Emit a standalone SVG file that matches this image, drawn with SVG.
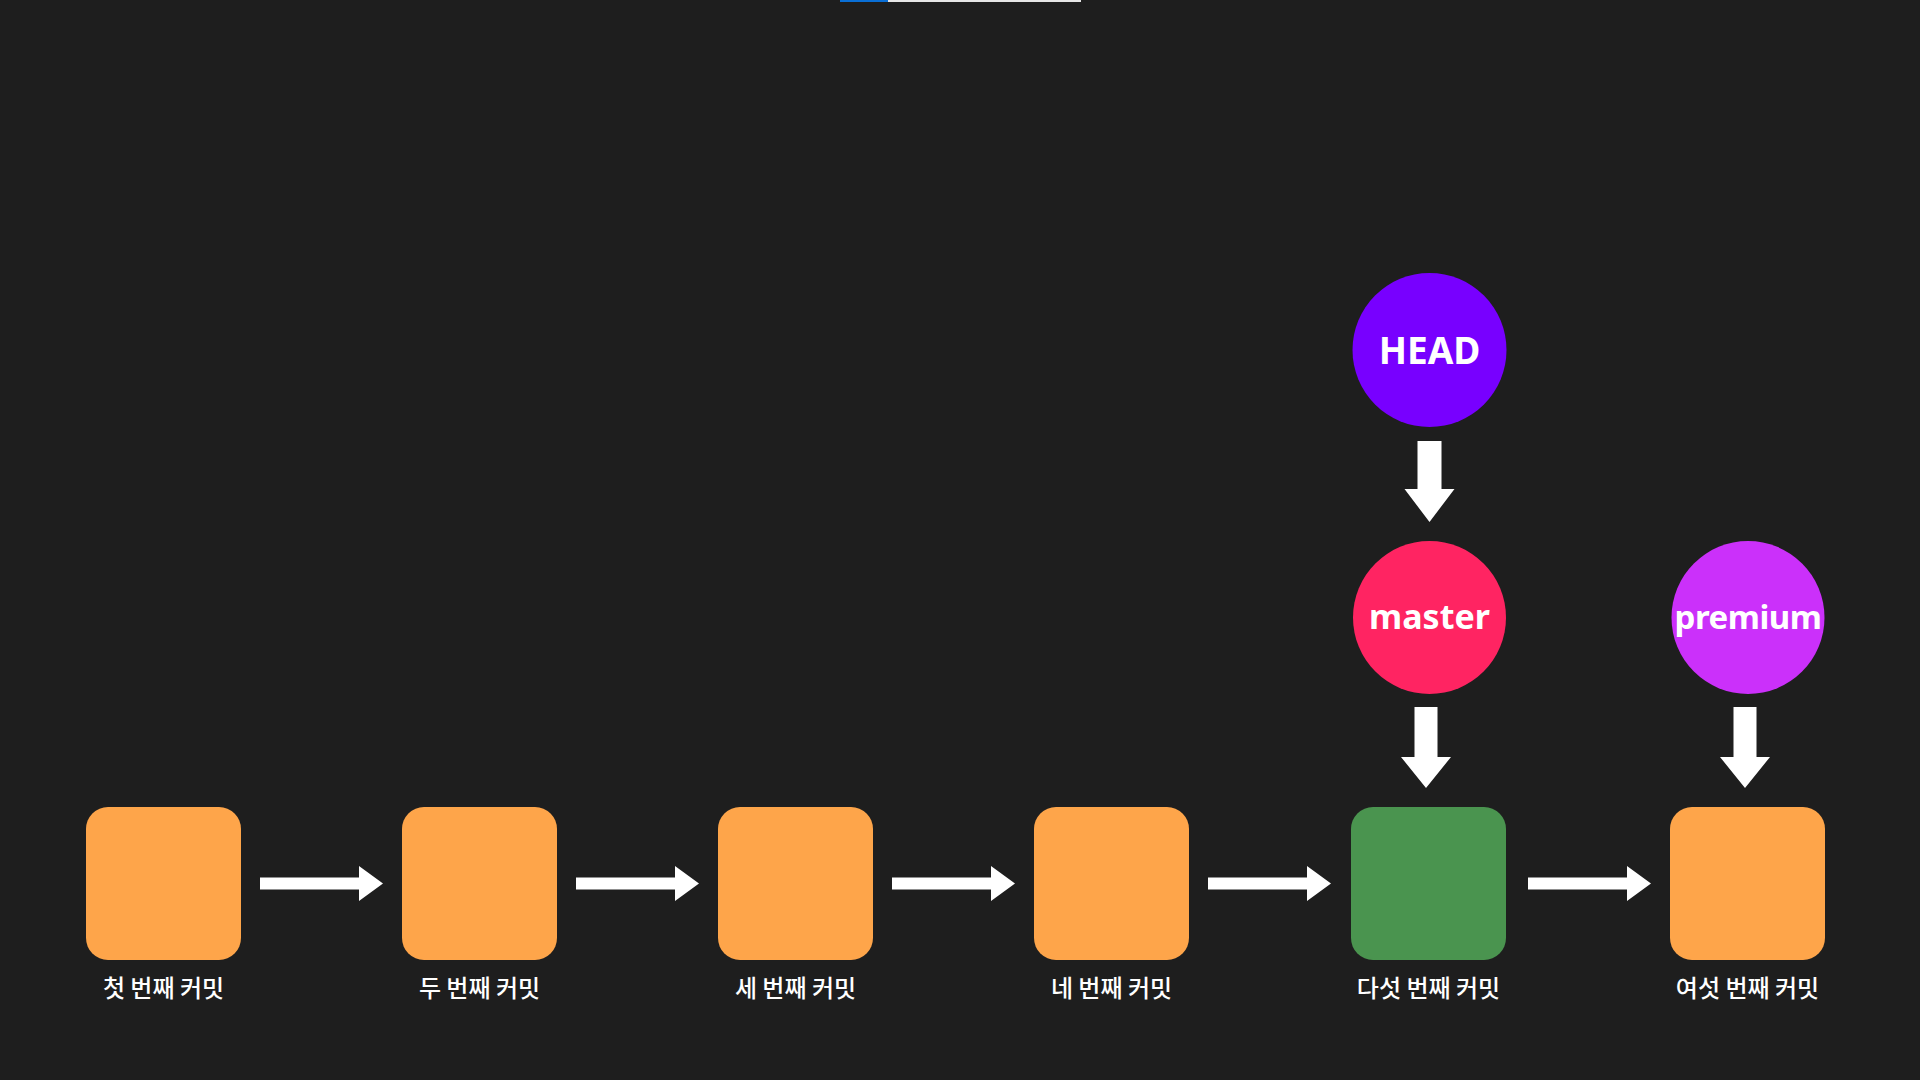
<svg xmlns="http://www.w3.org/2000/svg" width="1920" height="1080" viewBox="0 0 1920 1080">
<style>
.commit{fill:#FEA54A}
.current{fill:#4A944F}
.lbl{font-family:"Noto Sans CJK KR","Noto Sans",sans-serif;font-size:24px;font-weight:500;fill:#ffffff;text-anchor:middle}
.ref{font-family:"Noto Sans","Liberation Sans",sans-serif;font-weight:700;fill:#ffffff;text-anchor:middle}
.arr{fill:#ffffff}
</style>
<rect width="1920" height="1080" fill="#1E1E1E"/>
<rect x="840" y="0" width="48" height="2" fill="#0A6FD6"/>
<rect x="888" y="0" width="193" height="2" fill="#E6E6E6"/>

<g id="commit1"><rect class="commit" x="86" y="807" width="155" height="153" rx="22"/><text class="lbl" x="163.5" y="997">첫 번째 커밋</text></g>
<g id="commit2"><rect class="commit" x="402" y="807" width="155" height="153" rx="22"/><text class="lbl" x="479.5" y="997">두 번째 커밋</text></g>
<g id="commit3"><rect class="commit" x="718" y="807" width="155" height="153" rx="22"/><text class="lbl" x="795.5" y="997">세 번째 커밋</text></g>
<g id="commit4"><rect class="commit" x="1034" y="807" width="155" height="153" rx="22"/><text class="lbl" x="1111.5" y="997">네 번째 커밋</text></g>
<g id="commit5"><rect class="current" x="1351" y="807" width="155" height="153" rx="22"/><text class="lbl" x="1428.5" y="997">다섯 번째 커밋</text></g>
<g id="commit6"><rect class="commit" x="1670" y="807" width="155" height="153" rx="22"/><text class="lbl" x="1747.5" y="997">여섯 번째 커밋</text></g>

<g id="head"><circle cx="1429.5" cy="350" r="77" fill="#7800FF"/><text class="ref" x="1429.5" y="364" font-size="37">HEAD</text></g>
<g id="master"><circle cx="1429.5" cy="617.5" r="76.5" fill="#FF2462"/><text class="ref" x="1429.5" y="629" font-size="34">master</text></g>
<g id="premium"><circle cx="1748" cy="617.5" r="76.5" fill="#CB30FA"/><text class="ref" x="1748" y="629" font-size="33" letter-spacing="-0.5">premium</text></g>

<g id="connectors" class="arr">
<polygon points="260,877.5 359,877.5 359,866 383,883.5 359,901 359,889.5 260,889.5"/>
<polygon points="576,877.5 675,877.5 675,866 699,883.5 675,901 675,889.5 576,889.5"/>
<polygon points="892,877.5 991,877.5 991,866 1015,883.5 991,901 991,889.5 892,889.5"/>
<polygon points="1208,877.5 1307,877.5 1307,866 1331,883.5 1307,901 1307,889.5 1208,889.5"/>
<polygon points="1528,877.5 1627,877.5 1627,866 1651,883.5 1627,901 1627,889.5 1528,889.5"/>
<polygon points="1417.5,441 1441.5,441 1441.5,489 1454.5,489 1429.5,522 1404.5,489 1417.5,489"/>
<polygon points="1414.5,707 1437.5,707 1437.5,757 1451,757 1426,788 1401,757 1414.5,757"/>
<polygon points="1733.5,707 1756.5,707 1756.5,757 1770,757 1745,788 1720,757 1733.5,757"/>
</g>
</svg>
